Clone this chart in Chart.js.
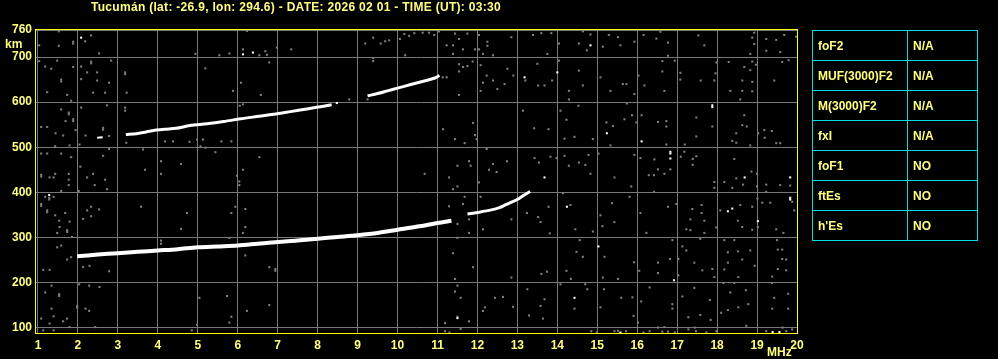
<!DOCTYPE html>
<html>
<head>
<meta charset="utf-8">
<script src="https://cdn.jsdelivr.net/npm/chart.js@4.4.1/dist/chart.umd.min.js"></script>
<style>
  body { margin: 0; background: #000; }
  #wrap { position: relative; width: 998px; height: 359px; background: #000;
          font-family: "Liberation Sans", Arial, sans-serif; font-weight: bold; font-size: 12px; color: #ffff80; }
  #title { position: absolute; left: 91px; top: 0px; white-space: nowrap; letter-spacing: 0.3px; }
  #km { position: absolute; left: 5px; top: 37px; }
  #mhz { position: absolute; left: 767px; top: 345px; }
  #params { position: absolute; left: 812px; top: 30px; border-collapse: collapse; }
  #params td { border: 1px solid #00e0e0; height: 29px; padding: 0 0 0 5px; vertical-align: middle; }
  #params td.k { width: 89px; }
  #params td.v { width: 64px; }
  canvas { position: absolute; left: 0; top: 0; }
</style>
</head>
<body>
<div id="wrap">
  <canvas id="iono" width="998" height="359"></canvas>
  <div id="title">Tucumán (lat: -26.9, lon: 294.6) - DATE: 2026 02 01 - TIME (UT): 03:30</div>
  <div id="km">km</div>
  <div id="mhz">MHz</div>
  <table id="params"></table>
</div>
<script>
// axis ticks
const xTicks = [1,2,3,4,5,6,7,8,9,10,11,12,13,14,15,16,17,18,19,20];
const yTicks = [100,200,300,400,500,600,700,760];

// parameter table
const paramNames = ["foF2", "MUF(3000)F2", "M(3000)F2", "fxI", "foF1", "ftEs", "h'Es"];
const paramValues = ["N/A", "N/A", "N/A", "N/A", "NO", "NO", "NO"];

// traces [MHz, km]
const lowerTrace = [[1.98,258],[2.5,262],[3,265],[3.5,268],[4,271],[4.5,274],[5,278],[5.5,280],[6,282],[6.5,286],
  [7,290],[7.5,293],[8,297],[8.5,301],[9,305],[9.5,310],[10,317],[10.5,324],[11,332],[11.35,337]];
const lowerTraceTail = [[11.75,352],[12.05,356],[12.35,361],[12.55,366],[12.7,372],[12.85,378],[13.0,384],[13.15,393],[13.32,402]];
const upperTrace = [[3.2,528],[3.46,530],[3.71,534],[3.96,538],[4.17,540],[4.46,542],[4.8,548],[5.23,552],[5.65,557],
  [6.07,563],[6.48,568],[6.9,573],[7.32,579],[7.73,585],[8.15,591],[8.35,594]];
const upperTraceTail = [[9.25,614],[9.5,619],[9.75,625],[10.0,631],[10.33,639],[10.67,647],[10.92,653],[11.05,659]];
const shortEcho = [[2.48,521],[2.62,522]];

// bright isolated echoes
const noiseWhite = [[2.08,743],[1.28,394],[6.13,706],[6.38,710],[8.48,598],[14.83,726],[13.18,655],[14.0,666],[15.24,531],
  [16.11,513],[13.68,433],[14.24,368],[15.03,280],[14.43,166],[15.58,89],[17.88,593],[17.88,589],[16.83,490],[16.83,486],
  [16.83,475],[18.69,433],[19.83,433],[19.83,388],[19.83,384],[18.27,358],[18.38,364],[19.02,336],[16.92,205],[19.39,90],
  [19.56,90],[11.5,121]];

// grey background noise
const noiseGray = [
  [1.52,757],[1.88,734],[1.88,730],[1.52,725],[1.03,726],[2.33,748],[2.18,735],[2.53,708],[1.03,691],[1.48,692],[1.18,679],
  [1.33,674],[1.88,678],[2.33,690],[2.33,686],[2.08,679],[2.23,666],[2.48,666],[2.83,692],[1.58,650],[1.58,646],[2.08,651],
  [2.48,648],[2.78,643],[3.18,666],[3.18,662],[1.23,622],[1.73,616],[1.83,603],[2.38,621],[2.68,621],[3.22,621],[1.58,584],
  [1.77,573],[1.77,577],[2.08,588],[2.73,593],[3.18,588],[3.18,581],[1.88,562],[1.88,558],[1.69,558],[1.08,545],[1.23,545],
  [1.94,538],[1.44,531],[1.63,526],[2.19,526],[2.63,543],[2.63,539],[2.78,525],[3.21,510],[4.18,513],[4.38,513],[4.79,512],
  [1.43,502],[1.79,504],[2.04,506],[2.78,496],[1.08,486],[1.23,486],[1.58,486],[1.83,478],[2.63,481],[3.63,495],[2.06,457],
  [1.08,439],[1.08,435],[1.29,433],[1.39,433],[1.43,441],[1.77,441],[1.77,428],[1.77,416],[2.23,433],[2.42,416],[2.68,428],
  [2.73,407],[2.38,441],[3.68,450],[4.08,441],[4.58,463],[4.08,469],[1.58,403],[2.02,403],[1.28,384],[1.28,388],[1.08,374],
  [1.08,370],[1.18,390],[1.39,390],[1.23,360],[1.23,356],[1.43,349],[1.68,354],[1.53,337],[1.79,335],[1.54,323],[1.73,316],
  [1.73,312],[1.48,310],[1.85,301],[2.23,360],[2.33,368],[2.33,347],[2.53,362],[2.13,341],[3.58,368],[4.73,354],[4.58,319],
  [1.48,278],[1.58,282],[1.73,251],[1.83,256],[2.13,234],[2.29,237],[2.78,225],[1.13,228],[1.29,228],[1.34,193],[1.18,178],
  [1.53,174],[1.53,170],[2.03,196],[2.28,193],[2.54,190],[1.98,148],[1.98,144],[2.19,142],[2.28,137],[1.34,142],[1.39,125],
  [1.08,120],[1.73,120],[1.63,114],[1.29,109],[1.79,101],[2.43,101],[1.13,94],[1.39,94],[4.08,293],[4.08,286],
  [6.23,758],[4.94,707],[5.54,704],[5.79,708],[6.13,717],[6.69,713],[6.73,705],[6.54,704],[6.98,721],[7.34,717],[6.79,688],
  [5.19,675],[6.08,643],[5.88,625],[6.58,616],[6.05,592],[6.13,595],[8.23,593],[4.85,549],[4.98,517],[5.13,517],[5.07,502],
  [5.19,499],[5.44,489],[5.59,513],[5.84,513],[6.54,478],[6.13,450],[5.98,437],[6.04,424],[6.04,416],[5.94,368],[5.84,354],
  [6.19,363],[6.19,323],[6.13,310],[5.79,299],[6.19,260],[6.79,234],[6.94,230],[6.94,226],[5.04,166],[5.73,170],[6.79,150],
  [6.23,137],[5.84,124],[5.79,111],[4.98,106],[4.85,94],
  [9.19,730],[9.39,743],[9.58,730],[9.69,735],[9.79,737],[10.06,740],[10.17,751],[10.29,747],[10.42,753],[10.63,754],
  [10.79,754],[10.92,749],[11.04,757],[11.44,752],[11.54,740],[11.64,717],[11.75,752],[11.23,726],[11.39,726],[11.39,707],
  [12.04,749],[11.94,717],[12.04,717],[12.14,707],[12.25,734],[12.25,725],[12.39,704],[9.39,698],[9.39,691],[10.19,704],
  [11.54,684],[11.64,678],[11.54,668],[11.75,680],[11.88,690],[12.08,682],[12.23,659],[12.39,648],[12.14,643],[12.08,625],
  [12.5,629],[11.54,616],[8.79,606],[9.25,606],[11.13,655],[11.23,655],[11.14,540],[11.89,554],[11.94,527],[11.44,518],
  [11.68,509],[11.98,518],[12.23,496],[10.68,441],[11.29,433],[11.5,459],[11.79,469],[11.83,459],[12.39,463],[12.29,450],
  [12.48,445],[11.39,407],[11.5,413],[12.04,422],[12.08,390],[11.68,390],[11.29,369],[11.64,374],[11.5,330],[11.79,340],
  [12.14,318],[11.79,310],[11.5,299],[11.39,265],[11.89,234],[11.44,208],[11.5,193],[11.44,180],[11.58,166],[12.44,166],
  [12.19,145],[12.14,137],[11.5,124],[11.79,114],[11.19,110],[11.19,92],[11.58,97],[11.3,89],
  [12.85,744],[13.39,749],[13.6,753],[13.85,753],[14.04,730],[14.54,730],[14.64,757],[14.83,750],[14.74,715],[15.14,723],
  [15.29,749],[15.52,744],[15.58,726],[15.93,734],[16.16,749],[13.75,707],[14.04,692],[13.5,685],[12.75,674],[12.9,659],
  [12.68,640],[13.2,648],[13.52,637],[13.68,637],[13.87,648],[14.29,625],[14.54,670],[14.64,637],[15.08,655],[15.33,625],
  [15.64,640],[15.73,640],[16.03,659],[15.93,618],[16.18,637],[14.53,592],[14.29,606],[15.74,597],[13.14,581],[14.08,581],
  [14.23,561],[13.78,540],[13.42,542],[14.18,519],[14.43,523],[14.89,518],[15.23,555],[15.39,547],[15.33,504],[15.68,562],
  [15.87,571],[16.11,571],[15.98,555],[12.74,469],[13.43,476],[13.54,466],[13.83,479],[13.98,476],[14.18,481],[14.29,459],
  [14.54,466],[14.78,483],[14.7,461],[14.83,441],[15.03,486],[15.43,433],[15.85,413],[15.93,483],[16.08,476],[16.29,438],
  [14.33,372],[13.78,368],[14.14,398],[12.85,340],[13.24,354],[13.52,345],[13.58,334],[13.81,309],[14.45,318],[14.89,313],
  [15.13,325],[15.08,349],[15.43,334],[15.37,376],[15.81,390],[16.23,310],[16.08,354],[14.56,294],[14.48,268],[14.64,257],
  [15.18,257],[12.85,211],[13.6,219],[13.74,224],[14.23,226],[14.34,208],[14.08,196],[14.7,196],[15.14,211],[15.52,208],
  [15.92,245],[16.05,226],[16.31,189],[12.64,168],[13.25,185],[13.58,148],[13.68,163],[14.75,185],[15.17,185],[15.6,166],
  [15.88,167],[16.1,158],[13.29,127],[13.64,120],[14.43,142],[15.08,145],[15.91,126],[16.02,111],[12.89,146],[14.85,92],
  [14.99,89],[15.43,92],[15.52,93],[15.72,92],[16.16,89],[16.31,92],
  [16.58,756],[16.48,741],[16.77,732],[16.77,703],[17.53,748],[17.68,726],[18.93,754],[18.88,743],[19.23,740],[19.23,714],
  [19.48,738],[19.58,711],[19.68,749],[19.98,745],[18.93,729],[18.83,707],[16.63,691],[16.63,668],[16.94,692],[17.08,665],
  [17.08,650],[17.59,648],[17.93,648],[17.98,688],[17.96,664],[18.29,689],[18.33,625],[18.58,606],[18.63,648],[18.63,625],
  [18.68,678],[18.83,671],[18.88,690],[18.88,645],[18.88,624],[18.97,683],[19.43,648],[19.63,689],[19.79,693],[16.68,625],
  [16.52,556],[16.73,558],[16.73,546],[17.48,566],[17.48,524],[17.88,546],[18.68,571],[18.63,549],[18.74,546],[18.48,531],
  [18.38,514],[18.48,510],[18.83,504],[19.18,538],[19.19,521],[19.37,536],[19.48,509],[19.58,509],[19.03,531],[16.73,506],
  [17.19,506],[17.18,490],[17.48,480],[17.39,474],[17.39,461],[17.09,479],[16.43,473],[16.52,451],[16.68,441],[16.83,451],
  [16.42,438],[16.42,401],[18.43,474],[17.93,423],[18.18,423],[17.93,410],[18.38,410],[18.48,431],[18.65,417],[19.0,441],
  [19.0,413],[18.86,446],[19.23,417],[19.23,401],[19.58,416],[19.83,415],[19.88,379],[19.93,360],[16.98,374],[16.77,368],
  [17.38,363],[17.61,372],[17.61,354],[17.68,337],[17.33,340],[17.23,318],[17.33,316],[17.68,310],[17.58,297],[17.98,322],
  [18.08,360],[18.58,372],[18.88,368],[18.52,337],[18.63,323],[18.88,317],[19.02,323],[19.01,386],[19.13,377],[19.33,377],
  [19.48,318],[19.66,310],[16.88,294],[17.13,280],[17.23,271],[17.03,252],[16.82,252],[16.52,244],[16.52,221],[17.03,216],
  [17.43,244],[17.63,227],[17.88,230],[17.93,212],[18.18,294],[18.43,294],[18.27,267],[18.52,269],[18.63,251],[18.27,244],
  [18.18,229],[18.53,212],[18.16,199],[18.43,199],[18.83,271],[18.94,237],[19.5,294],[19.52,273],[19.63,273],[19.73,251],
  [19.73,227],[19.63,252],[19.52,230],[19.38,213],[19.37,199],[17.43,188],[17.13,169],[16.88,152],[16.88,142],[17.82,161],
  [18.33,178],[18.72,183],[18.78,152],[18.53,145],[18.27,139],[18.1,133],[17.58,128],[17.28,123],[17.84,117],[18.73,104],
  [19.43,166],[19.38,142],[19.78,175],[19.78,142],[16.52,100],[16.68,101],[17.44,100],[16.63,91],[16.77,91],[16.94,89],
  [17.28,96],[17.47,92],[17.73,89],[17.98,92],[19.23,92],[19.64,100],[19.73,92],[19.88,96]
];

const table = document.getElementById("params");
paramNames.forEach((name, i) => {
  const tr = table.insertRow();
  const a = tr.insertCell(); a.className = "k"; a.textContent = name;
  const b = tr.insertCell(); b.className = "v"; b.textContent = paramValues[i];
});

const toXY = arr => arr.map(p => ({x: p[0], y: p[1]}));
const tickFont = {family: "'Liberation Sans', Arial, sans-serif", size: 12, weight: 'bold'};

function traceSet(arr, width) {
  return { type: 'line', data: toXY(arr), borderColor: '#ffffff', borderWidth: width,
           pointRadius: 0, showLine: true, tension: 0.3, borderCapStyle: 'butt' };
}
function dotSet(arr, color) {
  return { type: 'scatter', data: toXY(arr), pointStyle: 'rect', pointRadius: 1.45,
           backgroundColor: color, borderWidth: 0 };
}

const framePlugin = {
  id: 'frame',
  beforeDraw(chart) {
    const c = chart.ctx;
    c.save(); c.fillStyle = '#000'; c.fillRect(0, 0, chart.width, chart.height); c.restore();
  },
  afterDatasetsDraw(chart) {
    const a = chart.chartArea, c = chart.ctx;
    c.save();
    c.strokeStyle = '#ffff00'; c.lineWidth = 1;
    c.strokeRect(a.left - 0.5, a.top - 0.5, a.right - a.left + 1, a.bottom - a.top + 1);
    c.restore();
  }
};

new Chart(document.getElementById("iono"), {
  type: 'scatter',
  data: {
    datasets: [
      traceSet(lowerTrace, 4),
      traceSet(lowerTraceTail, 3),
      traceSet(upperTrace, 3),
      traceSet(upperTraceTail, 3),
      traceSet(shortEcho, 2),
      dotSet(noiseWhite, '#ffffff'),
      dotSet(noiseGray, '#808080')
    ]
  },
  options: {
    responsive: false,
    animation: false,
    events: [],
    layout: { padding: { top: 30, right: 201, left: 0, bottom: 0 } },
    plugins: { legend: { display: false }, tooltip: { enabled: false } },
    scales: {
      x: {
        type: 'linear', min: 0.95, max: 20,
        afterBuildTicks: s => { s.ticks = xTicks.map(v => ({value: v})); },
        afterFit: s => { s.height = 26; },
        ticks: { color: '#ffff80', font: tickFont, padding: 5, maxRotation: 0, autoSkip: false },
        grid: { color: '#787878', lineWidth: 1, drawTicks: false },
        border: { display: false }
      },
      y: {
        type: 'linear', min: 88, max: 760,
        afterBuildTicks: s => { s.ticks = yTicks.map(v => ({value: v})); },
        afterFit: s => { s.width = 36; },
        ticks: { color: '#ffff80', font: tickFont, padding: 4, autoSkip: false },
        grid: { color: '#787878', lineWidth: 1, drawTicks: false },
        border: { display: false }
      }
    }
  },
  plugins: [framePlugin]
});
</script>
</body>
</html>
